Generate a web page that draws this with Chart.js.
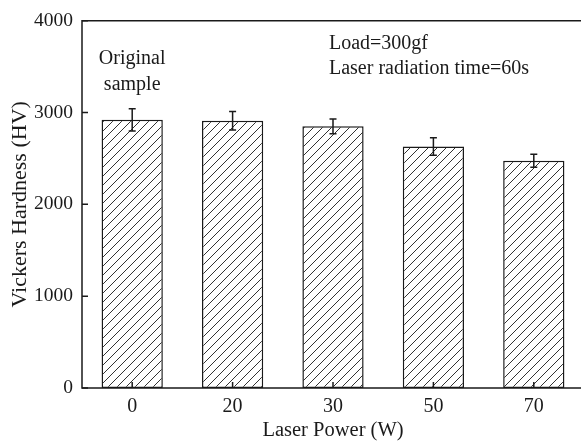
<!DOCTYPE html>
<html>
<head>
<meta charset="utf-8">
<script src="https://cdn.jsdelivr.net/npm/chart.js@4.4.0/dist/chart.umd.min.js"></script>
<style>
  html, body { margin: 0; padding: 0; background: #fff; overflow: hidden; }
  #wrap { width: 586px; height: 441px; position: relative; }
</style>
</head>
<body>
<div id="wrap"><canvas id="chart"></canvas></div>
<script>
let categories = ["0", "20", "30", "50", "70"];
let hardness = [2920, 2910, 2850, 2630, 2475];
let errors = [120, 100, 80, 95, 70];
let yTicks = [0, 1000, 2000, 3000, 4000];

let serif = "'Liberation Serif', 'Times New Roman', serif";
let ink = "#1a1a1a";

// diagonal hatch for the bars
function hatch() {
  let size = 9;
  let c = document.createElement("canvas");
  c.width = size;
  c.height = size;
  let g = c.getContext("2d");
  g.fillStyle = "#fff";
  g.fillRect(0, 0, size, size);
  g.strokeStyle = "#333";
  g.lineWidth = 1;
  g.beginPath();
  g.moveTo(0, size);
  g.lineTo(size, 0);
  g.moveTo(-size / 2, size / 2);
  g.lineTo(size / 2, -size / 2);
  g.moveTo(size / 2, size * 1.5);
  g.lineTo(size * 1.5, size / 2);
  g.stroke();
  return g.createPattern(c, "repeat");
}

let framePlugin = {
  id: "frame",
  afterDatasetsDraw(chart) {
    let ctx = chart.ctx;
    let a = chart.chartArea;
    let x = chart.scales.x;
    let y = chart.scales.y;
    ctx.save();
    ctx.strokeStyle = ink;
    ctx.lineWidth = 1.5;

    // error bars
    let meta = chart.getDatasetMeta(0);
    meta.data.forEach((bar, i) => {
      let top = y.getPixelForValue(hardness[i] + errors[i]);
      let bot = y.getPixelForValue(hardness[i] - errors[i]);
      ctx.beginPath();
      ctx.moveTo(bar.x, top);
      ctx.lineTo(bar.x, bot);
      ctx.moveTo(bar.x - 3.5, top);
      ctx.lineTo(bar.x + 3.5, top);
      ctx.moveTo(bar.x - 3.5, bot);
      ctx.lineTo(bar.x + 3.5, bot);
      ctx.stroke();
    });

    // inward ticks
    ctx.beginPath();
    yTicks.forEach((v) => {
      let py = y.getPixelForValue(v);
      ctx.moveTo(a.left, py);
      ctx.lineTo(a.left + 6, py);
    });
    categories.forEach((c, i) => {
      let px = x.getPixelForValue(i);
      ctx.moveTo(px, a.bottom);
      ctx.lineTo(px, a.bottom - 6);
    });
    ctx.stroke();

    // frame: right side is cut off by the picture edge
    ctx.beginPath();
    ctx.moveTo(chart.width, a.top);
    ctx.lineTo(a.left, a.top);
    ctx.lineTo(a.left, a.bottom);
    ctx.lineTo(chart.width, a.bottom);
    ctx.stroke();

    // notes
    ctx.fillStyle = ink;
    ctx.font = "20px " + serif;
    ctx.textBaseline = "middle";
    ctx.textAlign = "center";
    ctx.fillText("Original", x.getPixelForValue(0), y.getPixelForValue(3590));
    ctx.fillText("sample", x.getPixelForValue(0), y.getPixelForValue(3305));
    ctx.textAlign = "left";
    ctx.fillText("Load=300gf", x.getPixelForValue(1.96), y.getPixelForValue(3750));
    ctx.fillText("Laser radiation time=60s", x.getPixelForValue(1.96), y.getPixelForValue(3480));
    ctx.restore();
  },
};

new Chart(document.getElementById("chart"), {
  type: "bar",
  data: {
    labels: categories,
    datasets: [
      {
        data: hardness,
        backgroundColor: hatch(),
        borderColor: ink,
        borderWidth: 1.5,
        borderSkipped: false,
        categoryPercentage: 1,
        barPercentage: 0.61,
      },
    ],
  },
  options: {
    responsive: true,
    maintainAspectRatio: false,
    animation: false,
    layout: { padding: { top: 19, right: 2, left: 0, bottom: 0 } },
    plugins: {
      legend: { display: false },
      tooltip: { enabled: false },
    },
    scales: {
      x: {
        grid: { display: false, drawTicks: false },
        border: { display: false },
        ticks: { color: ink, font: { family: serif, size: 20 }, padding: 7 },
        title: {
          display: true,
          text: "Laser Power (W)",
          color: ink,
          font: { family: serif, size: 20.5, lineHeight: 1 },
          padding: { top: 0, bottom: 0 },
        },
        afterFit(scale) {
          scale.height = 53;
        },
      },
      y: {
        min: 0,
        max: 4000,
        grid: { display: false, drawTicks: false },
        border: { display: false },
        ticks: {
          stepSize: 1000,
          color: ink,
          font: { family: serif, size: 19.5 },
          padding: 9,
          callback: (v) => String(v),
        },
        title: {
          display: true,
          text: "Vickers Hardness (HV)",
          color: ink,
          font: { family: serif, size: 22, lineHeight: 1 },
          padding: { top: 9, bottom: 0 },
        },
        afterFit(scale) {
          scale.width = 82;
        },
      },
    },
  },
  plugins: [framePlugin],
});
</script>
</body>
</html>
